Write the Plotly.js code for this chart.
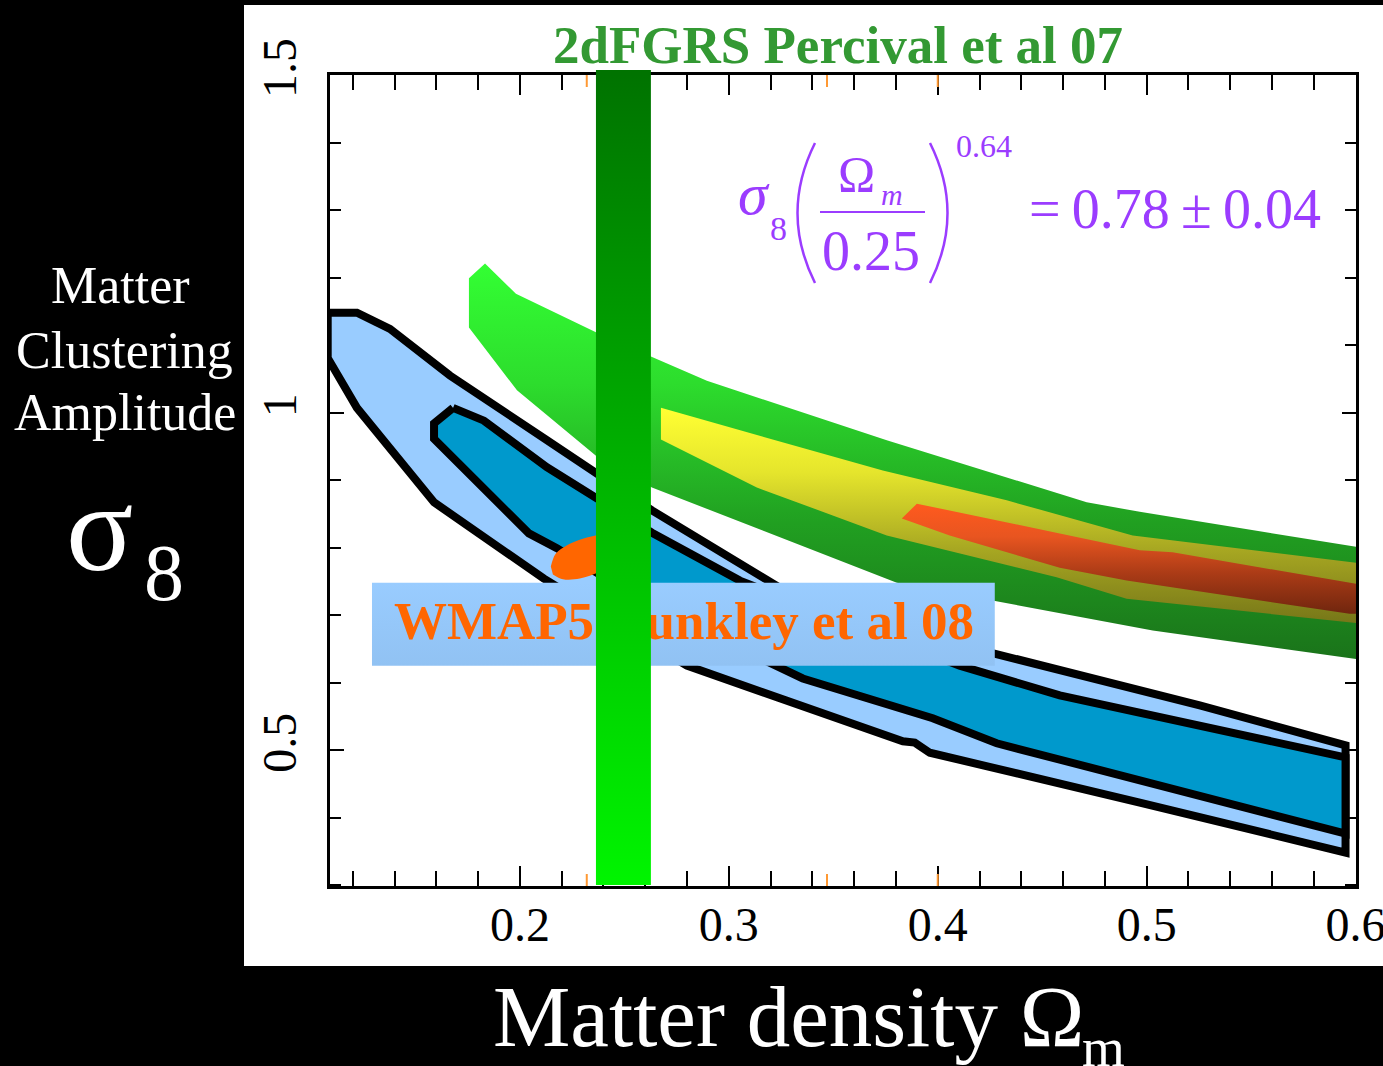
<!DOCTYPE html>
<html><head><meta charset="utf-8">
<script src="https://cdn.plot.ly/plotly-3.0.1.min.js"></script>
<style>html,body{margin:0;padding:0;background:#000;overflow:hidden}#chart{width:1383px;height:1066px}</style>
</head><body><div id="chart"></div>
<script>
// ---- WMAP5 (Dunkley et al 08) contours ----
const wmapOuterX = [0.108, 0.122, 0.1378, 0.1665, 0.212, 0.2632, 0.3402, 0.4273, 0.5254, 0.5952, 0.5952, 0.4967, 0.3962, 0.389, 0.3833, 0.2799, 0.2115, 0.1589, 0.122, 0.108, 0.108];
const wmapOuterY = [1.148, 1.148, 1.124, 1.055, 0.961, 0.855, 0.711, 0.644, 0.566, 0.507, 0.348, 0.422, 0.496, 0.511, 0.513, 0.625, 0.754, 0.867, 1.007, 1.081, 1.148];
const wmapInnerX = [0.168, 0.1828, 0.2129, 0.2368, 0.2632, 0.3053, 0.4105, 0.4584, 0.5952, 0.5952, 0.4967, 0.4282, 0.3976, 0.3354, 0.2622, 0.2177, 0.2043, 0.1589, 0.1589, 0.168];
const wmapInnerY = [1.007, 0.988, 0.919, 0.874, 0.822, 0.751, 0.625, 0.581, 0.489, 0.376, 0.455, 0.510, 0.547, 0.606, 0.714, 0.799, 0.821, 0.961, 0.984, 1.007];

// ---- 2dFGRS (Percival et al 07) bands ----
const dfOuterX = [0.1756, 0.1833, 0.1981, 0.2364, 0.2627, 0.2895, 0.3756, 0.4713, 0.4967, 0.6043, 0.6043, 0.5029, 0.3804, 0.2632, 0.2364, 0.1986, 0.1756];
const dfOuterY = [1.199, 1.221, 1.176, 1.119, 1.083, 1.047, 0.959, 0.867, 0.853, 0.799, 0.633, 0.677, 0.748, 0.889, 0.936, 1.033, 1.126];
const dfInnerX = [0.2675, 0.3737, 0.433, 0.4933, 0.6043, 0.6043, 0.4904, 0.4569, 0.3756, 0.3134, 0.2675];
const dfInnerY = [1.007, 0.914, 0.870, 0.818, 0.776, 0.687, 0.724, 0.756, 0.818, 0.889, 0.960];
const jointX = [0.39, 0.4297, 0.4584, 0.4967, 0.5124, 0.6043, 0.6043, 0.5971, 0.4904, 0.4584, 0.4057, 0.3828];
const jointY = [0.865, 0.84, 0.821, 0.796, 0.793, 0.744, 0.702, 0.702, 0.751, 0.770, 0.818, 0.843];

// ---- joint WMAP5 + 2dF (orange) ----
const ellipseX = [0.2148, 0.2172, 0.223, 0.2301, 0.2383, 0.2469, 0.2536, 0.2565, 0.2545, 0.2478, 0.2383, 0.2287, 0.2206, 0.2158];
const ellipseY = [0.772, 0.791, 0.804, 0.813, 0.819, 0.822, 0.818, 0.807, 0.793, 0.778, 0.764, 0.754, 0.753, 0.760];

// ---- 2dFGRS Omega_m bar ----
const barX = [0.2364, 0.2627, 0.2627, 0.2364];
const barY = [0.3, 0.3, 1.51, 1.51];

// ---- label box ----
const boxX = [0.1292, 0.4273, 0.4273, 0.1292];
const boxY = [0.625, 0.625, 0.748, 0.748];
const labelX = [0.2785];
const labelY = [0.684];
const labelText = ['WMAP5 Dunkley et al 08'];

// ---- small orange ticks on the frame ----
const orangeTickX = [0.232, 0.347, 0.4];

const SERIF = 'Liberation Serif, Times New Roman, serif';
const PURPLE = '#9b3cff';

function poly(x, y, extra) {
  return Object.assign({x: x, y: y, type: 'scatter', mode: 'lines', fill: 'toself',
    hoverinfo: 'skip', showlegend: false}, extra);
}

const traces = [
  poly(dfOuterX, dfOuterY, {line: {width: 0, color: 'rgba(0,0,0,0)'},
    fillgradient: {type: 'vertical', colorscale: [[0, '#1a731a'], [0.35, '#21a021'], [0.7, '#2ddd2d'], [1, '#33ff33']]}}),
  poly(dfInnerX, dfInnerY, {line: {width: 0, color: 'rgba(0,0,0,0)'},
    fillgradient: {type: 'vertical', colorscale: [[0, '#767618'], [0.35, '#a8a822'], [0.7, '#e5e52c'], [1, '#ffff33']]}}),
  poly(jointX, jointY, {line: {width: 0, color: 'rgba(0,0,0,0)'},
    fillgradient: {type: 'vertical', colorscale: [[0, '#70260e'], [0.35, '#a83a16'], [0.7, '#e85520'], [1, '#ff5a1e']]}}),
  poly(wmapOuterX, wmapOuterY, {fillcolor: '#99ccff', line: {color: '#000', width: 8}}),
  poly(wmapInnerX, wmapInnerY, {fillcolor: '#0099cc', line: {color: '#000', width: 8}}),
  poly(ellipseX, ellipseY, {fillcolor: '#ff6600', line: {color: '#ff6600', width: 0, shape: 'spline'}}),
  poly(boxX, boxY, {line: {width: 0, color: 'rgba(0,0,0,0)'},
    fillgradient: {type: 'vertical', colorscale: [[0, '#91c2f3'], [1, '#99ccff']]}}),
  {x: labelX, y: labelY, text: labelText, type: 'scatter', mode: 'text', textposition: 'middle center',
    cliponaxis: false, hoverinfo: 'skip', showlegend: false,
    textfont: {family: SERIF, size: 53, color: '#ff6600', weight: 'bold'}},
  poly(barX, barY, {line: {width: 0, color: 'rgba(0,0,0,0)'},
    fillgradient: {type: 'vertical', colorscale: [[0, '#00f500'], [1, '#007300']], start: 0.3, stop: 1.5}})
];

// pixel -> paper helpers for decorations placed outside the data
const PX = p => (p - 330) / 1026;
const PY = p => (886 - p) / 811;

function ann(text, x, y, size, color, extra) {
  return Object.assign({text: text, xref: 'paper', yref: 'paper', x: PX(x), y: PY(y),
    xanchor: 'center', yanchor: 'middle', showarrow: false,
    font: {family: SERIF, size: size, color: color}}, extra || {});
}

const annotations = [
  ann('Matter', 120, 285.5, 52, '#fff'),
  ann('Clustering', 124, 350.5, 52, '#fff'),
  ann('Amplitude', 125, 412.5, 52, '#fff'),
  ann('σ', 99, 528, 125, '#fff'),
  ann('8', 164, 573, 80, '#fff'),
  ann('Matter density Ω', 788, 1016, 87, '#fff'),
  ann('m', 1103, 1047, 55, '#fff'),
  ann('<i>σ</i>', 754, 194, 60, PURPLE),
  ann('8', 778.5, 228.5, 34, PURPLE),
  ann('Ω', 856, 174.5, 50, PURPLE),
  ann('<i>m</i>', 892, 194, 30, PURPLE),
  ann('0.25', 871, 251, 56, PURPLE),
  ann('0.64', 984, 146, 32, PURPLE),
  ann('=\u20090.78\u2009±\u20090.04', 1175, 209, 56, PURPLE)
];

const shapes = [
  {type: 'rect', xref: 'paper', yref: 'paper', x0: PX(244), x1: PX(1383), y0: PY(966), y1: PY(5),
    fillcolor: '#fff', line: {width: 0}, layer: 'below'},
  {type: 'rect', xref: 'x', yref: 'paper', x0: barX[0], x1: barX[1], y0: 1, y1: PY(70),
    fillcolor: '#007300', line: {width: 0}, layer: 'above'},
  {type: 'path', xref: 'paper', yref: 'paper',
    path: `M ${PX(815)},${PY(143)} Q ${PX(780)},${PY(213)} ${PX(815)},${PY(283)}`,
    line: {color: PURPLE, width: 2.5}, layer: 'above'},
  {type: 'path', xref: 'paper', yref: 'paper',
    path: `M ${PX(930)},${PY(143)} Q ${PX(965)},${PY(213)} ${PX(930)},${PY(283)}`,
    line: {color: PURPLE, width: 2.5}, layer: 'above'},
  {type: 'line', xref: 'paper', yref: 'paper', x0: PX(820), x1: PX(925), y0: PY(212), y1: PY(212),
    line: {color: PURPLE, width: 2}, layer: 'above'}
];
orangeTickX.forEach(v => {
  shapes.push({type: 'line', xref: 'x', yref: 'paper', x0: v, x1: v, y0: 0, y1: 12 / 811,
    line: {color: '#ff9933', width: 2}, layer: 'above'});
  shapes.push({type: 'line', xref: 'x', yref: 'paper', x0: v, x1: v, y0: 1, y1: 1 - 12 / 811,
    line: {color: '#ff9933', width: 2}, layer: 'above'});
});

const layout = {
  width: 1383, height: 1066,
  margin: {l: 330, r: 27, t: 75, b: 180, pad: 0},
  paper_bgcolor: '#000', plot_bgcolor: '#fff',
  showlegend: false,
  title: {text: '<b>2dFGRS Percival et al 07</b>', font: {family: SERIF, size: 53, color: '#339933'},
    xref: 'container', yref: 'container', x: 838 / 1383, y: 1 - 44 / 1066, xanchor: 'center', yanchor: 'middle'},
  xaxis: {range: [0.1091, 0.6002], tick0: 0, dtick: 0.1, ticks: 'inside', ticklen: 20, tickwidth: 2,
    tickcolor: '#000', showline: true, linecolor: '#000', linewidth: 3, mirror: 'allticks',
    showgrid: false, zeroline: false, layer: 'below traces', ticklabelstandoff: -6,
    ticklabeloverflow: 'allow',
    tickfont: {family: SERIF, size: 48, color: '#000'},
    minor: {dtick: 0.02, tick0: 0, ticks: 'inside', ticklen: 15, tickwidth: 2, tickcolor: '#000', showgrid: false}},
  yaxis: {range: [0.2985, 1.5002], tick0: 0, dtick: 0.5, ticks: 'inside', ticklen: 14, tickwidth: 2,
    tickcolor: '#000', showline: true, linecolor: '#000', linewidth: 3, mirror: 'allticks',
    showgrid: false, zeroline: false, layer: 'below traces', tickangle: -90, ticklabelstandoff: 12,
    ticklabeloverflow: 'allow',
    tickfont: {family: SERIF, size: 48, color: '#000'},
    minor: {dtick: 0.1, tick0: 0, ticks: 'inside', ticklen: 11, tickwidth: 2, tickcolor: '#000', showgrid: false}},
  annotations: annotations,
  shapes: shapes
};

Plotly.newPlot('chart', traces, layout, {displayModeBar: false, staticPlot: true});
</script></body></html>
